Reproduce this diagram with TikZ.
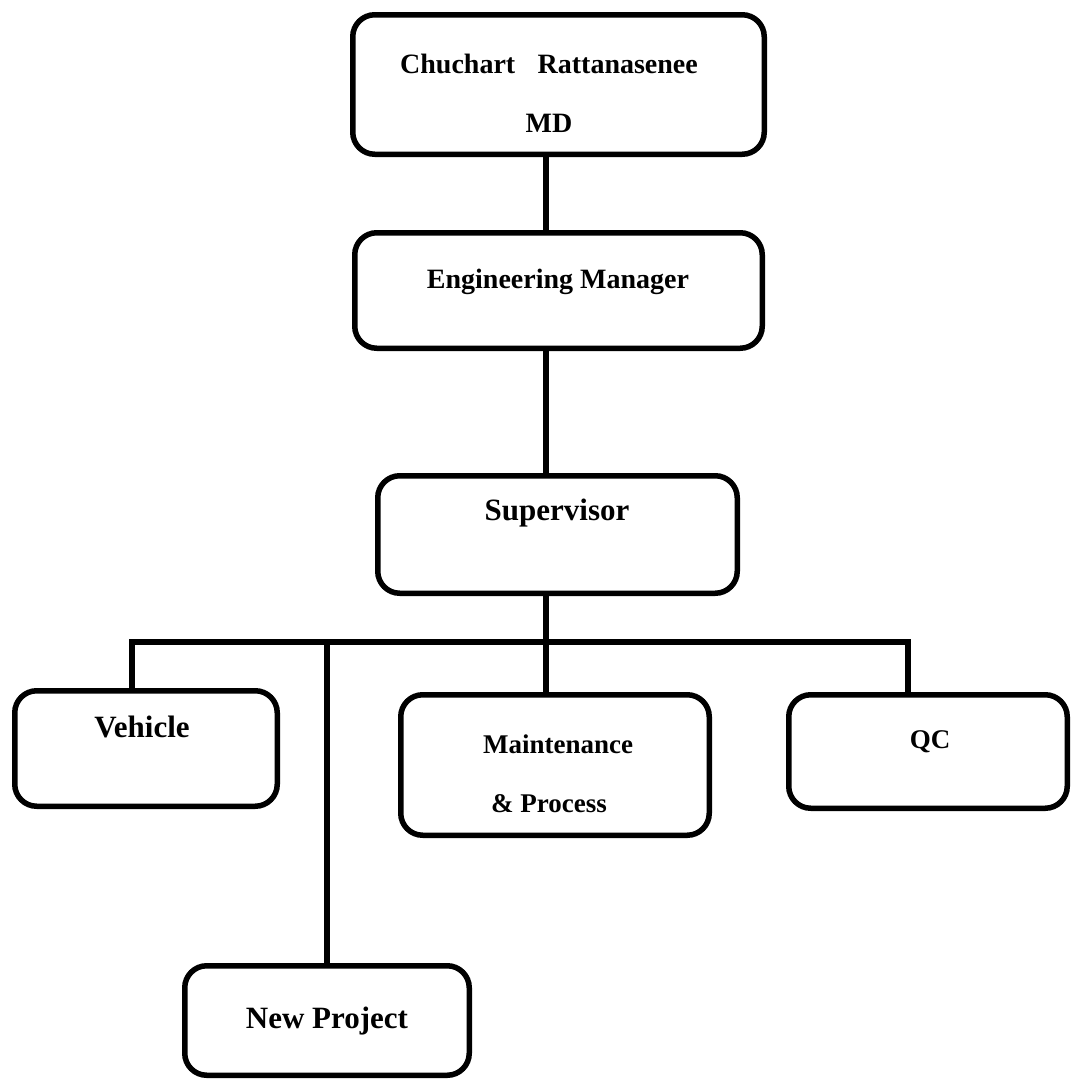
\documentclass[tikz,border=0pt]{standalone}
\usepackage{fontspec}
\setmainfont{Liberation Serif}
\begin{document}
\begin{tikzpicture}[x=1pt, y=-1pt,
  box/.style={draw, line width=5.5pt, rounded corners=22pt, inner sep=0pt},
  conn/.style={line width=6pt},
  lbl/.style={inner sep=0pt, anchor=base, font=\bfseries\fontsize{#1}{#1}\selectfont},
  lbl/.default=28]
  \useasboundingbox (0,0) rectangle (1076,1082);

  % boxes
  \node[box, minimum width=411.5pt, minimum height=139.5pt] (md)  at (558.5,84.5)  {};
  \node[box, minimum width=407.5pt, minimum height=115.5pt] (em)  at (558.5,290.5) {};
  \node[box, minimum width=359.5pt, minimum height=117.5pt] (sup) at (557.5,534.5) {};
  \node[box, minimum width=262.5pt, minimum height=115.5pt] (veh) at (146,748.5)   {};
  \node[box, minimum width=308.5pt, minimum height=140.5pt] (mp)  at (555,765)     {};
  \node[box, minimum width=278.5pt, minimum height=113.5pt] (qc)  at (928,751.5)   {};
  \node[box, minimum width=284.5pt, minimum height=109.5pt] (np)  at (327,1020.5)  {};

  % labels
  \node[lbl] (mdname)  at (549,73)   {Chuchart\hspace{0.8em}Rattanasenee};
  \node[lbl] (mdrole)  at (549,132)  {MD};
  \node[lbl] (emtext)  at (558,288)  {Engineering Manager};
  \node[lbl=31] (suptext) at (557,520)  {Supervisor};
  \node[lbl=31] (vehtext) at (142,737)  {Vehicle};
  \node[lbl=27] (mptext1) at (558,753)  {Maintenance};
  \node[lbl=27] (mptext2) at (549,812)  {\& Process};
  \node[lbl=27] (qctext)  at (930,748)  {QC};
  \node[lbl=31] (nptext)  at (327,1028) {New Project};

  % bus coordinates
  \coordinate (busC)  at (546,642);
  \coordinate (busL)  at (132,642);
  \coordinate (busNP) at (327,642);
  \coordinate (busR)  at (908,642);

  % connectors
  \draw[conn] (md.south -| busC) -- (em.north -| busC);
  \draw[conn] (em.south -| busC) -- (sup.north -| busC);
  \draw[conn] (sup.south -| busC) -- (mp.north -| busC);
  \draw[conn] (veh.north -| busL) -- (busL) -- (busR) -- (qc.north -| busR);
  \draw[conn] (busNP) -- (np.north -| busNP);
\end{tikzpicture}
\end{document}
